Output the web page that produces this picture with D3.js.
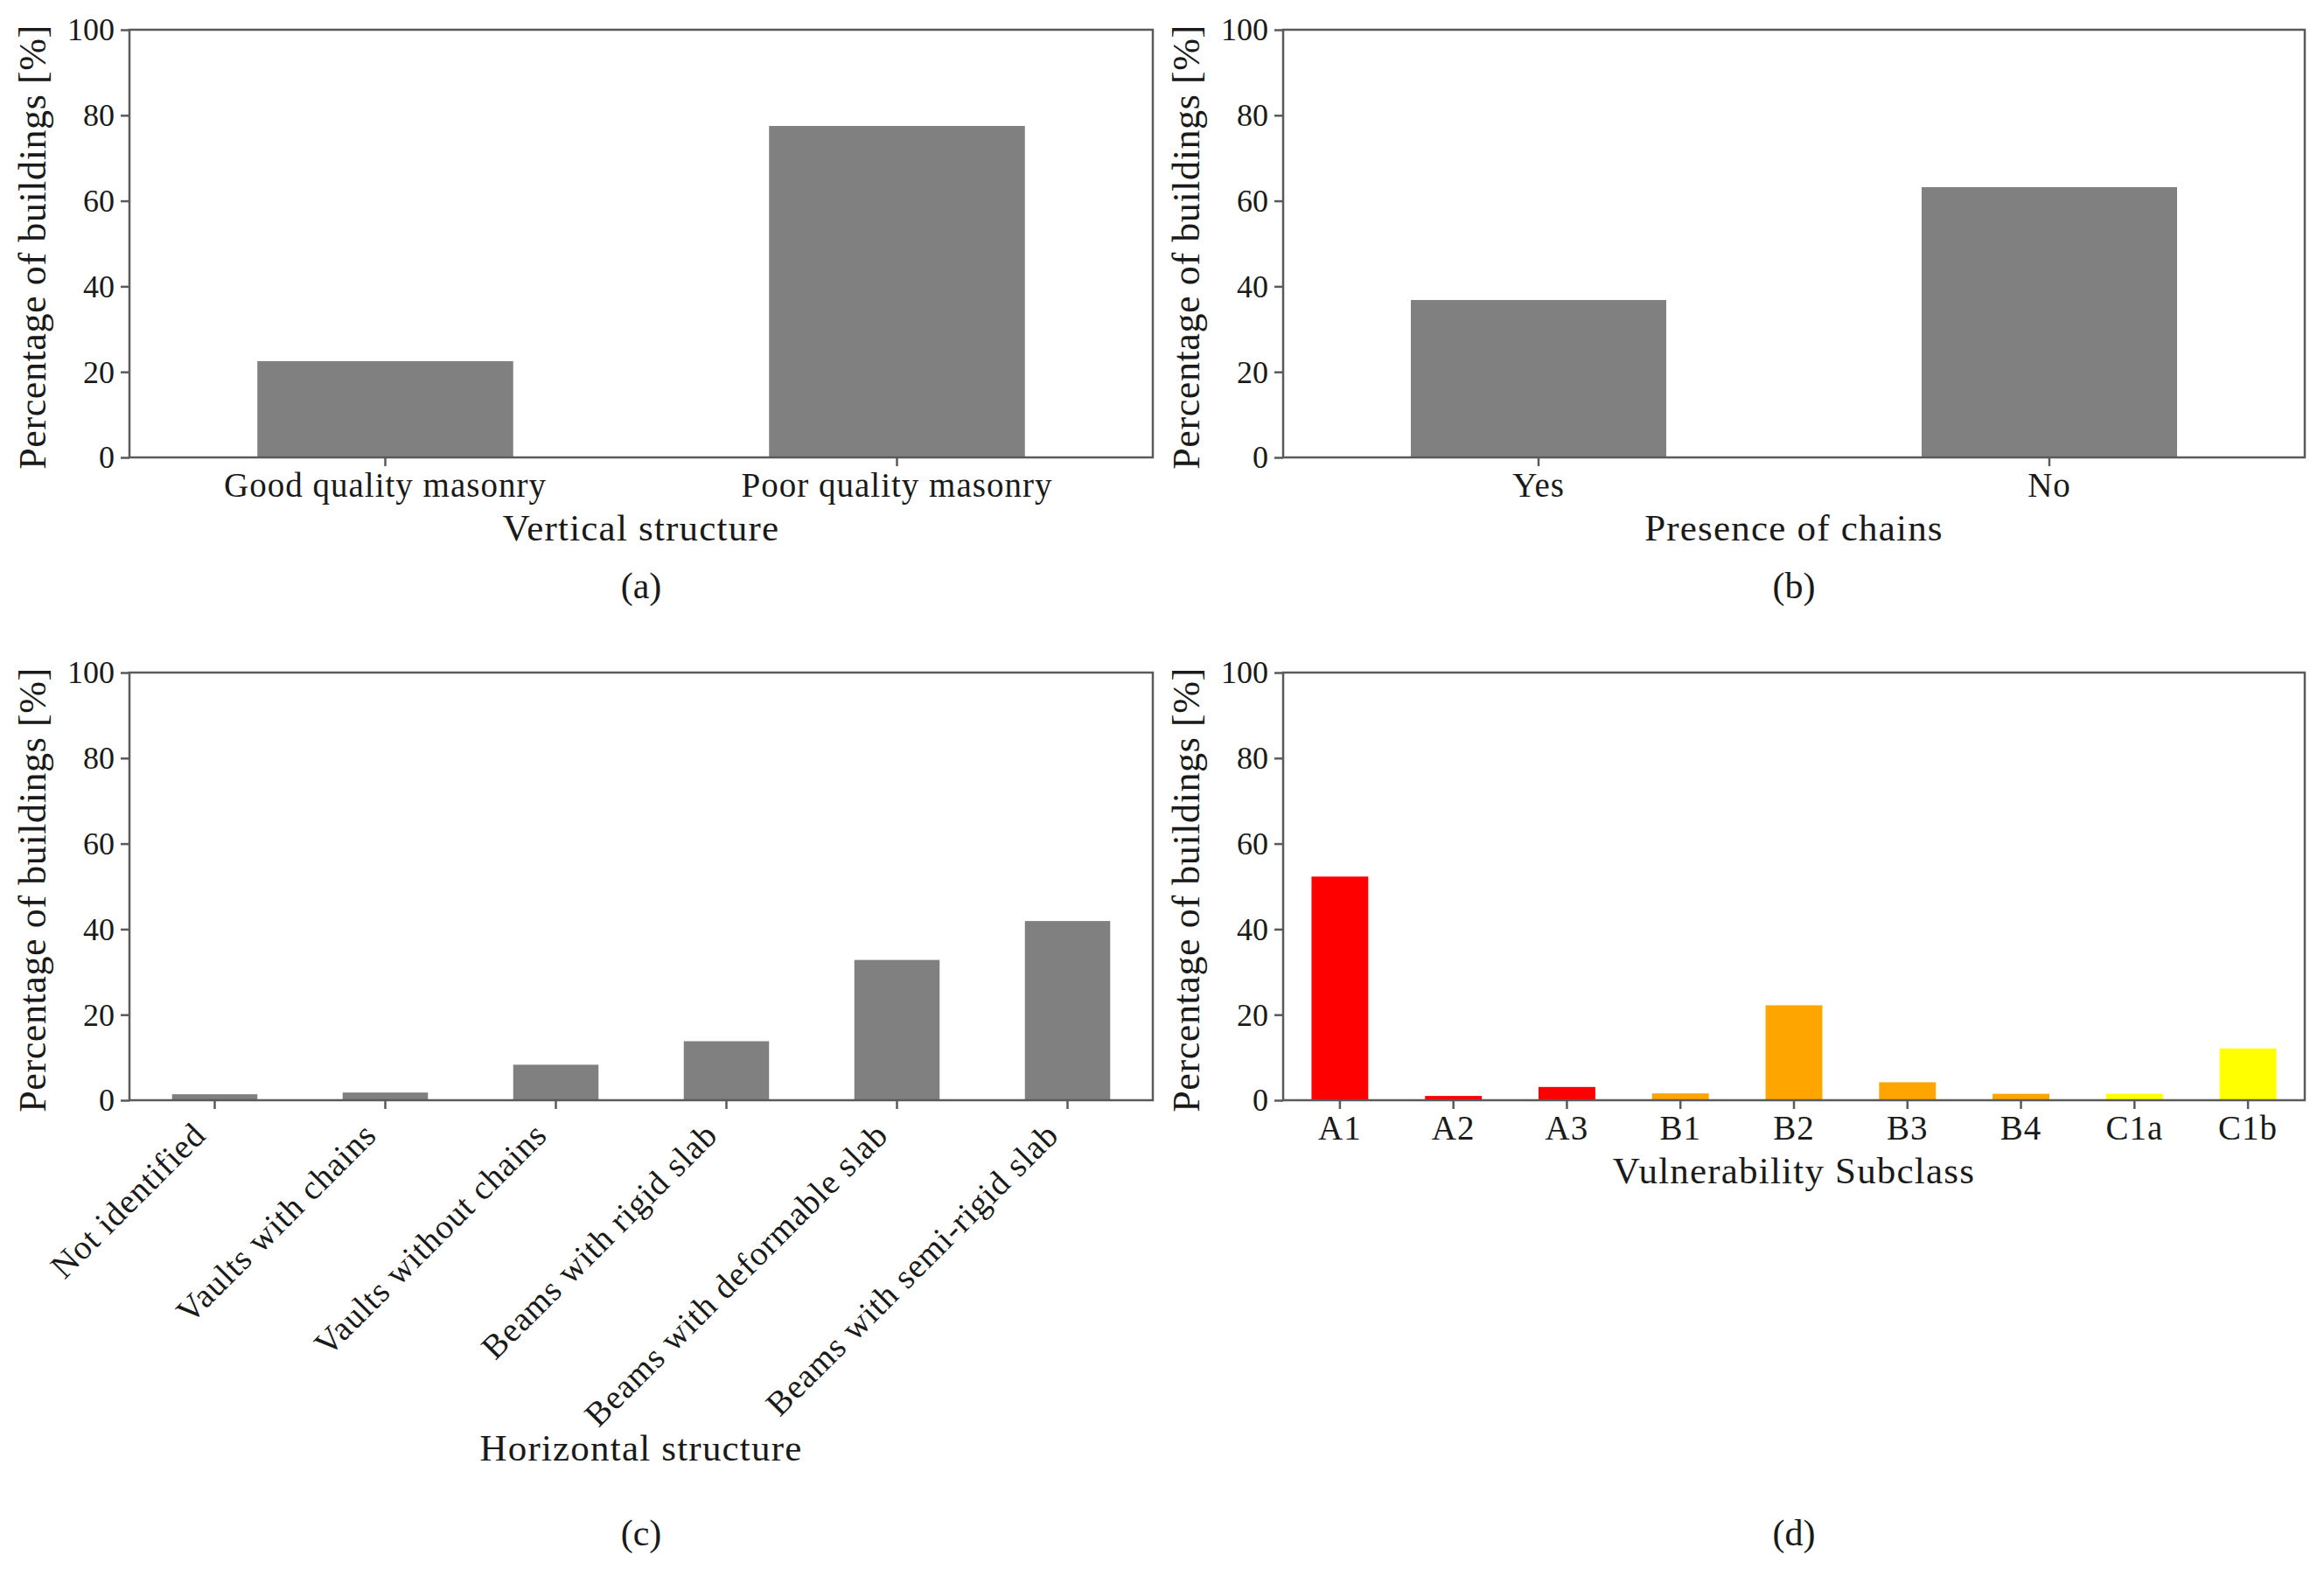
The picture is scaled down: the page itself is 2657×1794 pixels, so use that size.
<!DOCTYPE html>
<html>
<head>
<meta charset="utf-8">
<script src="https://cdn.jsdelivr.net/npm/d3@7"></script>
<style>
  html, body { margin: 0; padding: 0; background: #fff; }
  svg text { font-family: "Liberation Serif", "DejaVu Serif", serif; fill: #1a1a1a; }
</style>
</head>
<body>
<svg id="chart" width="2657" height="1794"></svg>
<script>
// data
const vertCats = ["Good quality masonry", "Poor quality masonry"];
const vertVals = [22.5, 77.5];

const chainCats = ["Yes", "No"];
const chainVals = [36.8, 63.2];

const horizCats = ["Not identified", "Vaults with chains", "Vaults without chains",
  "Beams with rigid slab", "Beams with deformable slab", "Beams with semi-rigid slab"];
const horizVals = [1.4, 1.8, 8.3, 13.8, 32.8, 41.9];

const subCats = ["A1", "A2", "A3", "B1", "B2", "B3", "B4", "C1a", "C1b"];
const subVals = [52.3, 1.0, 3.1, 1.6, 22.2, 4.2, 1.5, 1.5, 12.1];
const subColors = ["#ff0000", "#ff0000", "#ff0000", "#ffa500", "#ffa500", "#ffa500", "#ffa500", "#ffff00", "#ffff00"];

const yTicks = [0, 20, 40, 60, 80, 100];

const svg = d3.select("#chart");
svg.append("rect").attr("width", 2657).attr("height", 1794).attr("fill", "#fff");

const spineColor = "#5a5a5a";

function drawPanel(p) {
  const g = svg.append("g").attr("transform", `translate(${p.left},${p.top})`);

  const x = d3.scaleBand().domain(p.cats).range([0, p.width]).paddingInner(0.5).paddingOuter(0.25);
  const y = d3.scaleLinear().domain([0, 100]).range([p.height, 0]);

  // bars
  g.selectAll("rect.bar")
    .data(p.vals)
    .join("rect")
    .attr("class", "bar")
    .attr("x", (d, i) => x(p.cats[i]))
    .attr("y", d => y(d))
    .attr("width", x.bandwidth())
    .attr("height", d => y(0) - y(d))
    .attr("fill", (d, i) => p.colors ? p.colors[i] : "#808080");

  // y axis
  const yAxis = g.append("g")
    .call(d3.axisLeft(y).tickValues(yTicks).tickSize(10).tickPadding(7).tickFormat(d3.format("d")));
  yAxis.select(".domain").remove();
  yAxis.selectAll(".tick line").attr("stroke", spineColor).attr("stroke-width", 2.5);
  yAxis.selectAll(".tick text").attr("font-size", 36).attr("dy", "0.33em");

  // x axis
  const xAxis = g.append("g")
    .attr("transform", `translate(0,${p.height})`)
    .call(d3.axisBottom(x).tickSize(10).tickPadding(8));
  xAxis.select(".domain").remove();
  xAxis.selectAll(".tick line").attr("stroke", spineColor).attr("stroke-width", 2.5);
  const xt = xAxis.selectAll(".tick text")
    .attr("font-size", 39)
    .attr("letter-spacing", 1);
  if (p.rotate) {
    xt.attr("text-anchor", "end")
      .attr("dy", null)
      .attr("y", 0)
      .attr("transform", "translate(-8,42) rotate(-45)");
  } else {
    xt.attr("dy", "0.7em");
  }

  // frame
  g.append("rect")
    .attr("width", p.width).attr("height", p.height)
    .attr("fill", "none").attr("stroke", spineColor).attr("stroke-width", 2.5);

  // y label
  g.append("text")
    .attr("transform", `translate(-96,${p.height / 2 + 4}) rotate(-90)`)
    .attr("text-anchor", "middle")
    .attr("font-size", 44)
    .attr("letter-spacing", 0.6)
    .text("Percentage of buildings [%]");

  // x title
  g.append("text")
    .attr("x", p.width / 2).attr("y", p.height + p.titleOffset)
    .attr("text-anchor", "middle")
    .attr("font-size", 43)
    .attr("letter-spacing", 1.2)
    .text(p.title);

  // panel tag
  svg.append("text")
    .attr("x", p.left + p.width / 2).attr("y", p.tagY)
    .attr("text-anchor", "middle")
    .attr("font-size", 42)
    .text(p.tag);
}

drawPanel({ left: 148, top: 34, width: 1170, height: 489, cats: vertCats, vals: vertVals,
  title: "Vertical structure", titleOffset: 95, tag: "(a)", tagY: 684 });
drawPanel({ left: 1467, top: 34, width: 1168, height: 489, cats: chainCats, vals: chainVals,
  title: "Presence of chains", titleOffset: 95, tag: "(b)", tagY: 684 });
drawPanel({ left: 148, top: 769, width: 1170, height: 489, cats: horizCats, vals: horizVals,
  title: "Horizontal structure", titleOffset: 412, tag: "(c)", tagY: 1767, rotate: true });
drawPanel({ left: 1467, top: 769, width: 1168, height: 489, cats: subCats, vals: subVals, colors: subColors,
  title: "Vulnerability Subclass", titleOffset: 95, tag: "(d)", tagY: 1767 });
</script>
</body>
</html>
